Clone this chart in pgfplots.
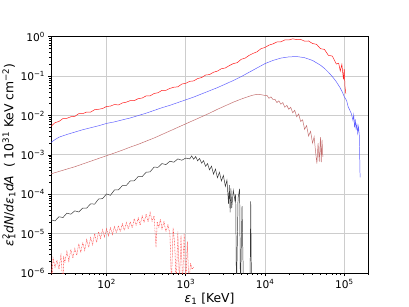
\documentclass[border=0pt]{standalone}
\usepackage{fontspec}
\setmainfont{DejaVu Sans}
\usepackage{pgfplots}
\pgfplotsset{compat=1.18}
\definecolor{lineRed}{RGB}{255,25,25}
\definecolor{lineBlue}{RGB}{95,95,255}
\definecolor{lineBrown}{RGB}{195,110,110}
\definecolor{lineBlack}{RGB}{55,55,55}
\definecolor{lineRedDot}{RGB}{255,60,60}
\definecolor{gridGray}{RGB}{205,205,205}
\newcommand\logtick[1]{\pgfmathtruncatemacro\tmpE{round(#1)}\ifnum\tmpE<0 10\textsuperscript{−\number-\tmpE}\else 10\textsuperscript{\tmpE}\fi}
\newcommand\eps{\textit{ε}}
\begin{document}
\begin{tikzpicture}
\path[use as bounding box] (-57.6bp,-38.0bp) rectangle (403.2bp,307.6bp);
\begin{axis}[
  at={(0,0)}, anchor=south west,
  scale only axis, width=357.1bp, height=266.1bp,
  xmode=log, ymode=log, log basis x=10, log basis y=10,
  xmin=20, xmax=2e5, ymin=1e-6, ymax=1,
  xtick={1e2,1e3,1e4,1e5},
  ytick={1e-6,1e-5,1e-4,1e-3,1e-2,1e-1,1},
  minor xtick={20,30,40,50,60,70,80,90,200,300,400,500,600,700,800,900,2000,3000,4000,5000,6000,7000,8000,9000,20000,30000,40000,50000,60000,70000,80000,90000,200000},
  minor ytick={2e-6,3e-6,4e-6,5e-6,6e-6,7e-6,8e-6,9e-6,2e-5,3e-5,4e-5,5e-5,6e-5,7e-5,8e-5,9e-5,2e-4,3e-4,4e-4,5e-4,6e-4,7e-4,8e-4,9e-4,2e-3,3e-3,4e-3,5e-3,6e-3,7e-3,8e-3,9e-3,2e-2,3e-2,4e-2,5e-2,6e-2,7e-2,8e-2,9e-2,0.2,0.3,0.4,0.5,0.6,0.7,0.8,0.9},
  xticklabel={\logtick{\tick}},
  yticklabel={\logtick{\tick}},
  ticklabel style={font=\fontsize{12}{14}\selectfont},
  label style={font=\fontsize{14}{17}\selectfont},
  tick align=outside,
  major tick length=3.5bp, minor tick length=2bp,
  every tick/.style={black, line width=0.8bp},
  minor tick style={black, line width=0.6bp},
  xtick pos=bottom, ytick pos=left,
  axis line style={black, line width=0.8bp},
  grid=major,
  major grid style={gridGray, line width=1bp},
  xlabel={\eps\textsubscript{1} [KeV]},
  ylabel={\eps\rlap{\textsubscript{1}}\textsuperscript{2}\textit{dN}/\textit{d}\eps\textsubscript{1}\textit{dA}\ \ ( 10\textsuperscript{31} KeV cm\textsuperscript{−2})},
  xlabel style={yshift=2bp},
  ylabel style={yshift=-1bp},
  no markers,
  every axis plot/.append style={line width=0.55bp},
]
% red top
\addplot[lineRed] coordinates {
(20,5.37e-3) (22.4,6.61e-3) (25.1,7.08e-3) (28.2,8.41e-3) (31.6,8.51e-3) (35.5,9.33e-3) (39.8,9.55e-3) (44.7,1.12e-2) (50.1,1.12e-2) (56.2,1.23e-2) (63.1,1.23e-2) (70.8,1.41e-2) (79.4,1.445e-2) (89.1,1.51e-2) (100,1.70e-2) (112.2,1.74e-2) (125.9,1.91e-2) (141.3,1.86e-2) (158.5,2.09e-2) (177.8,2.19e-2) (199.5,2.40e-2) (223.9,2.40e-2) (251.2,2.69e-2) (281.8,2.79e-2) (316.2,3.16e-2) (354.8,3.16e-2) (398.1,3.63e-2) (446.7,3.80e-2) (501.2,4.37e-2) (562.3,4.37e-2) (631,4.90e-2) (707.9,5.25e-2) (794.3,5.37e-2) (891.3,6.31e-2) (1000,6.61e-2) (1122,7.41e-2) (1259,7.59e-2) (1413,8.71e-2) (1585,9.23e-2) (1778,0.107) (1995,0.110) (2239,0.126) (2512,0.135) (2818,0.155) (3162,0.162) (3548,0.186) (3981,0.209) (4467,0.221) (5012,0.269) (5623,0.288) (6310,0.339) (7079,0.380) (7943,0.417) (8913,0.501) (10000,0.537) (11220,0.617) (12590,0.661) (14130,0.741) (15850,0.750) (17780,0.832) (19950,0.832) (22390,0.891) (25120,0.851) (28180,0.861) (31620,0.776) (35480,0.785) (39810,0.676) (44670,0.646) (50120,0.501) (56230,0.479) (63100,0.339) (70790,0.324) (79430,0.204) (85110,0.214) (89130,0.135) (93330,0.200) (97720,0.0832) (100000,0.151) (102300,0.0537) (104700,0.0363)
};
% blue
\addplot[lineBlue] coordinates {
(20,2.09e-3) (22.4,2.45e-3) (25.1,2.82e-3) (31.6,3.31e-3) (39.8,3.80e-3) (50.1,4.37e-3) (63.1,4.90e-3) (79.4,5.50e-3) (100,6.31e-3) (126,6.92e-3) (158,7.76e-3) (200,8.71e-3) (251,1.00e-2) (316,1.148e-2) (398,1.349e-2) (501,1.585e-2) (631,1.82e-2) (794,2.138e-2) (1000,2.512e-2) (1259,2.951e-2) (1585,3.548e-2) (1995,4.266e-2) (2512,5.129e-2) (3162,6.31e-2) (3981,7.762e-2) (5012,9.772e-2) (6310,0.1259) (7943,0.1622) (10000,0.2089) (12590,0.2512) (15850,0.2884) (19950,0.309) (25120,0.3162) (31620,0.2951) (39810,0.2512) (50120,0.1905) (56230,0.1585) (63100,0.1259) (70790,0.0977) (79430,0.0724) (89130,0.0501) (95500,0.038) (100000,0.0302) (107200,0.024) (112200,0.0166) (117500,0.0138) (123000,0.0112) (128800,7.59e-3) (131800,1.05e-2) (134900,5.01e-3) (138000,7.94e-3) (141300,4.27e-3) (144500,6.31e-3) (147900,3.55e-3) (151400,5.25e-3) (154900,3.16e-3) (158500,2.69e-4)
};
% brown
\addplot[lineBrown] coordinates {
(20,3.31e-4) (25.1,3.80e-4) (31.6,4.37e-4) (39.8,5.01e-4) (50.1,5.89e-4) (63.1,6.92e-4) (79.4,8.13e-4) (100,9.55e-4) (126,1.12e-3) (158,1.32e-3) (200,1.585e-3) (251,1.86e-3) (316,2.24e-3) (398,2.69e-3) (501,3.31e-3) (631,4.07e-3) (794,5.01e-3) (1000,6.17e-3) (1259,7.59e-3) (1585,9.33e-3) (1995,1.148e-2) (2512,1.445e-2) (3162,1.778e-2) (3981,2.188e-2) (5012,2.63e-2) (6310,3.09e-2) (7079,3.31e-2) (7943,3.47e-2) (8913,3.39e-2) (10000,3.24e-2) (10590,3.27e-2) (11220,2.75e-2) (11890,2.99e-2) (12590,2.57e-2) (13340,2.60e-2) (14130,2.14e-2) (14960,2.37e-2) (15850,1.95e-2) (16790,2.14e-2) (17780,1.62e-2) (18840,1.82e-2) (19950,1.445e-2) (21130,1.62e-2) (22390,1.175e-2) (23710,1.36e-2) (25120,9.33e-3) (26610,1.10e-2) (28180,7.08e-3) (29850,7.76e-3) (31620,4.47e-3) (33500,5.56e-3) (35480,3.02e-3) (37580,3.98e-3) (39810,2.00e-3) (41690,2.88e-3) (43650,1.12e-3) (45190,6.03e-4) (46770,2.00e-3) (48420,6.76e-4) (50120,2.82e-3) (51290,6.61e-4) (52480,2.40e-3) (53700,8.91e-4)
};
% black
\addplot[lineBlack] coordinates {
(20,2.24e-5) (22.4,2.11e-5) (25.1,2.69e-5) (28.2,2.57e-5) (31.6,3.31e-5) (35.5,3.13e-5) (39.8,3.80e-5) (44.7,3.55e-5) (50.1,4.47e-5) (56.2,4.47e-5) (63.1,5.75e-5) (70.8,5.62e-5) (79.4,7.59e-5) (89.1,7.76e-5) (100,1.02e-4) (112.2,9.44e-5) (125.9,1.29e-4) (141.3,1.29e-4) (158.5,1.66e-4) (177.8,1.68e-4) (199.5,2.19e-4) (223.9,2.21e-4) (251.2,2.82e-4) (281.8,2.82e-4) (316.2,3.63e-4) (354.8,3.72e-4) (398.1,4.90e-4) (446.7,4.84e-4) (501.2,6.03e-4) (562.3,5.69e-4) (631,6.92e-4) (707.9,6.53e-4) (794.3,7.94e-4) (891.3,7.33e-4) (1000,8.32e-4) (1122,7.94e-4) (1189,9.44e-4) (1259,7.76e-4) (1334,9.12e-4) (1413,7.08e-4) (1496,8.13e-4) (1585,6.17e-4) (1679,7.16e-4) (1778,5.13e-4) (1884,6.03e-4) (1995,4.17e-4) (2113,5.19e-4) (2239,3.24e-4) (2371,4.37e-4) (2512,2.63e-4) (2661,3.63e-4) (2818,2.19e-4) (2985,3.02e-4) (3162,1.585e-4) (3311,2.29e-4) (3467,5.75e-5) (3548,1.70e-4) (3631,3.47e-5) (3715,1.41e-4) (3802,4.47e-5) (3981,1.26e-4) (4169,7.08e-5) (4266,1.00e-4) (4365,3.0e-7) (4571,7.94e-5) (4786,1.38e-4) (4898,3.0e-7) (5129,5.01e-5) (5370,3.0e-7) (6457,3.0e-7) (6607,6.61e-5) (6761,3.0e-7)
};
% red dotted
\addplot[lineRedDot, dash pattern=on 0.8bp off 0.9bp] coordinates {
(20.0,1.78e-6) (20.4,5.0e-7) (21.13,2.40e-6) (22.39,1.41e-6) (23.71,2.09e-6) (25.12,1.26e-6) (26.61,2.82e-6) (28.18,5.0e-7) (28.84,2.51e-6) (29.85,1.91e-6) (31.62,3.55e-6) (33.50,2.00e-6) (35.48,3.98e-6) (37.58,2.40e-6) (39.81,4.17e-6) (42.17,2.82e-6) (44.67,5.62e-6) (47.32,3.31e-6) (50.12,6.03e-6) (53.09,3.80e-6) (56.23,7.08e-6) (59.57,4.47e-6) (63.10,7.94e-6) (66.83,5.25e-6) (70.79,1.00e-5) (74.99,6.03e-6) (79.43,1.12e-5) (84.14,7.59e-6) (89.13,1.26e-5) (94.41,8.32e-6) (100,1.32e-5) (105.9,8.91e-6) (112.2,1.41e-5) (118.9,9.55e-6) (125.9,1.51e-5) (133.4,1.05e-5) (141.3,1.585e-5) (149.6,1.12e-5) (158.5,1.78e-5) (167.9,1.20e-5) (177.8,1.91e-5) (188.4,1.32e-5) (199.5,2.00e-5) (211.3,1.41e-5) (223.9,2.40e-5) (237.1,1.585e-5) (251.2,2.51e-5) (266.1,1.66e-5) (281.8,2.82e-5) (298.5,1.91e-5) (316.2,3.16e-5) (335.0,2.00e-5) (354.8,3.47e-5) (375.8,2.09e-5) (398.1,2.82e-5) (421.7,4.47e-6) (436.5,2.00e-5) (457.1,1.41e-5) (478.6,2.34e-5) (501.2,1.32e-5) (530.9,2.00e-5) (562.3,1.12e-5) (595.7,1.66e-5) (631.0,1.00e-5) (660.7,5.0e-7) (691.8,1.41e-5) (724.4,5.62e-6) (758.6,5.0e-7) (794.3,1.12e-5) (831.8,5.0e-7) (871.0,8.91e-6) (912.0,5.0e-7) (955.0,1.00e-5) (1000,5.0e-7) (1047,6.31e-6) (1096,5.0e-7) (1148,1.78e-6) (1202,1.26e-6) (1259,1.41e-6)
};
\end{axis}
\end{tikzpicture}
\end{document}
